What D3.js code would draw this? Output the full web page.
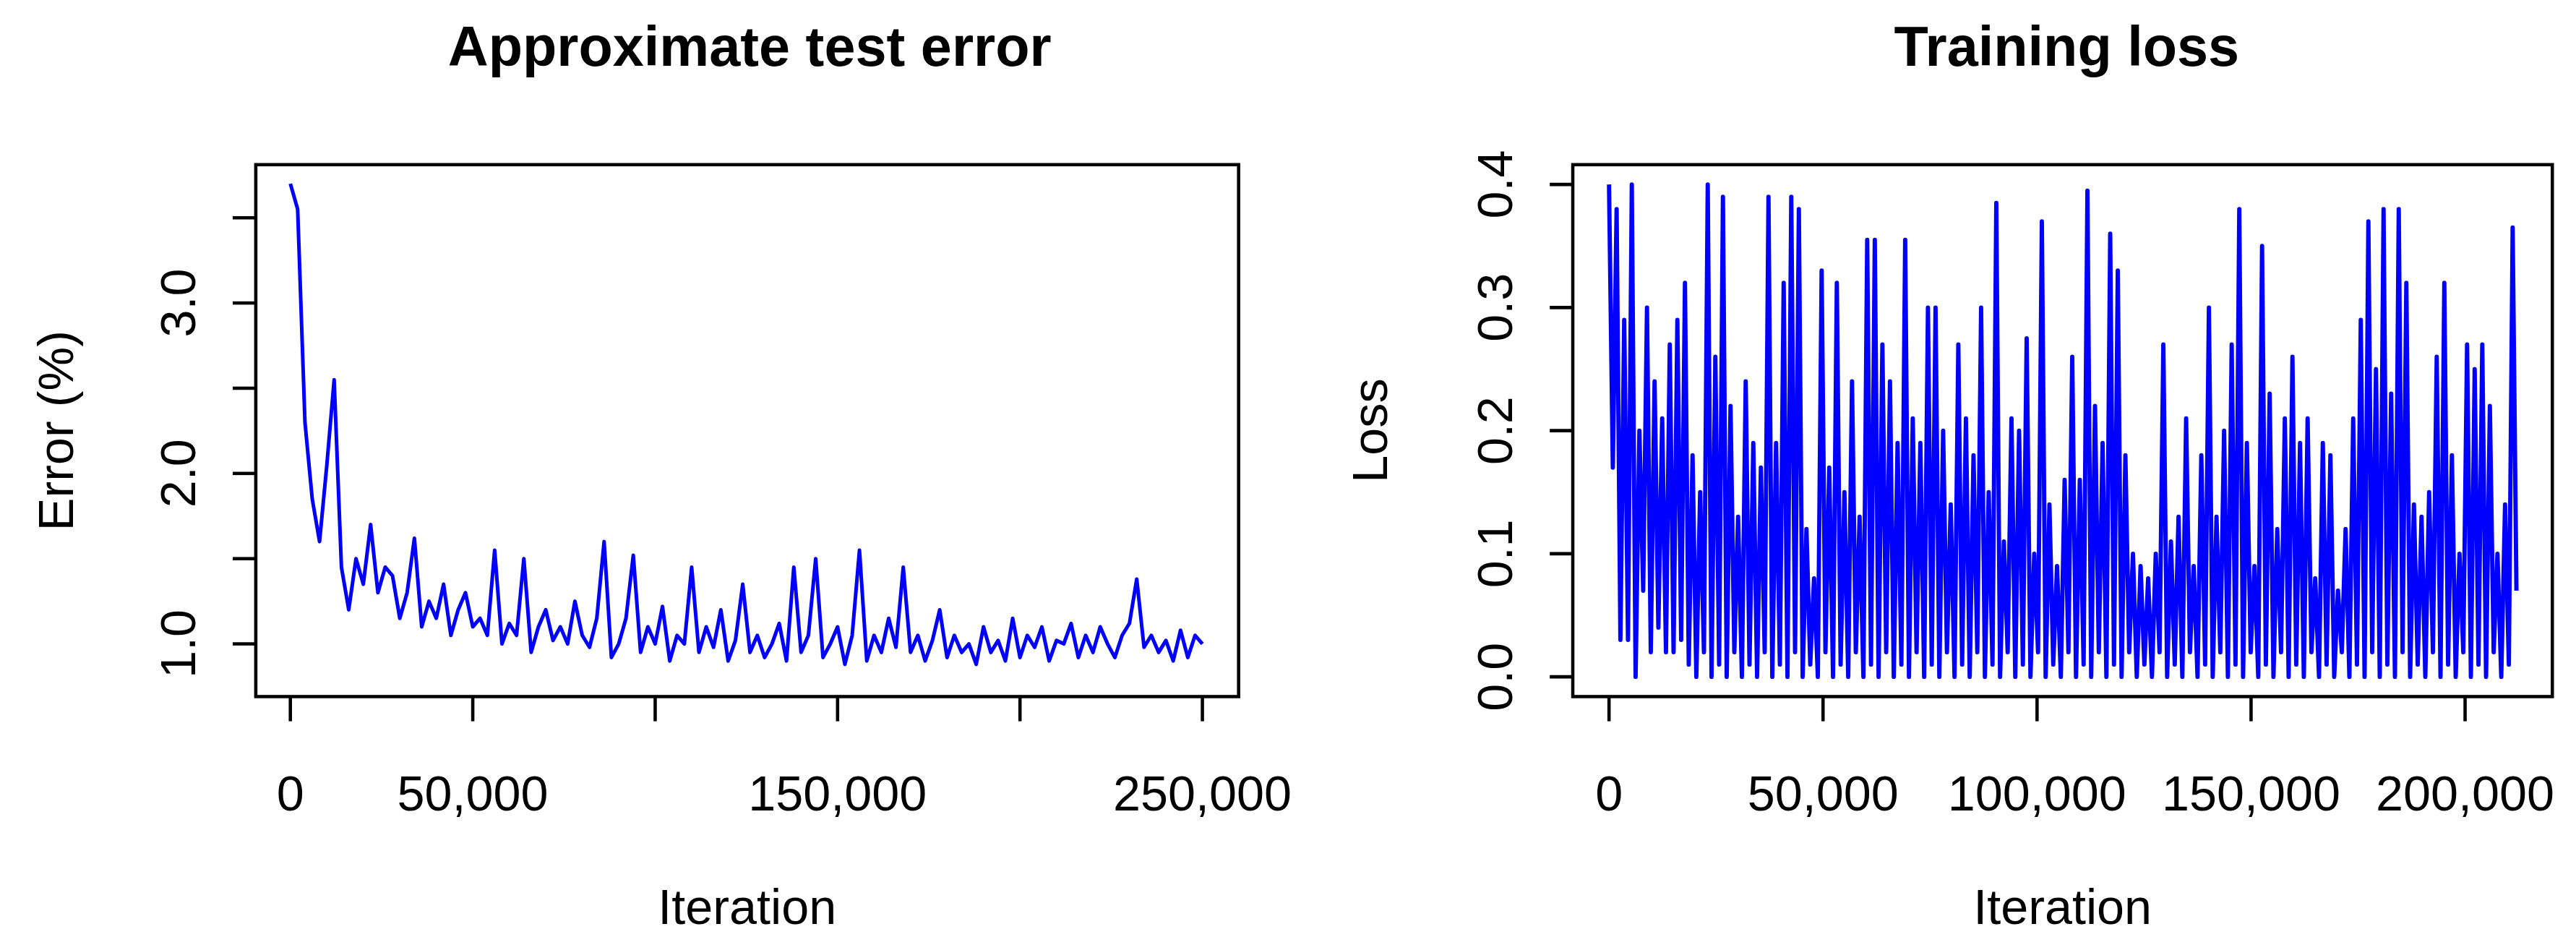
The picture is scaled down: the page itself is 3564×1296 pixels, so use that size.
<!DOCTYPE html>
<html>
<head>
<meta charset="utf-8">
<script src="https://cdn.jsdelivr.net/npm/d3@7"></script>
<style>
  body { margin: 0; background: #fff; }
  text { font-family: "Liberation Sans", Arial, sans-serif; fill: #000; }
</style>
</head>
<body>
<div id="chart"></div>
<script>
// approximate test error, one reading every ~2000 iterations
const errValues = [
  3.70,3.55,2.30,1.85,1.60,2.05,2.55,1.45,1.20,1.50,1.35,1.70,1.30,1.45,1.40,1.15,1.30,1.62,1.10,1.25,
  1.15,1.35,1.05,1.20,1.30,1.10,1.15,1.05,1.55,1.00,1.12,1.05,1.50,0.95,1.10,1.20,1.02,1.10,1.00,1.25,
  1.05,0.98,1.15,1.60,0.92,1.00,1.15,1.52,0.95,1.10,1.00,1.22,0.90,1.05,1.00,1.45,0.95,1.10,0.98,1.20,
  0.90,1.02,1.35,0.95,1.05,0.92,1.00,1.12,0.90,1.45,0.95,1.05,1.50,0.92,1.00,1.10,0.88,1.05,1.55,0.90,
  1.05,0.95,1.15,0.98,1.45,0.95,1.05,0.90,1.02,1.20,0.92,1.05,0.95,1.00,0.88,1.10,0.95,1.02,0.90,1.15,
  0.92,1.05,0.98,1.10,0.90,1.02,1.00,1.12,0.92,1.05,0.95,1.10,1.00,0.92,1.05,1.12,1.38,0.98,1.05,0.95,
  1.02,0.90,1.08,0.92,1.05,1.00
];
const errMaxIter = 250000;

// training loss, dense minibatch readings
const lossValues = [
  0.40,0.17,0.38,0.03,0.29,0.03,0.40,0.00,0.20,0.07,0.30,0.02,0.24,0.04,0.21,0.02,0.27,0.02,0.29,0.03,
  0.32,0.01,0.18,0.00,0.15,0.02,0.40,0.00,0.26,0.01,0.39,0.00,0.22,0.02,0.13,0.00,0.24,0.01,0.19,0.00,
  0.17,0.02,0.39,0.00,0.19,0.01,0.32,0.00,0.39,0.02,0.38,0.00,0.12,0.01,0.08,0.00,0.33,0.02,0.17,0.00,
  0.32,0.01,0.15,0.00,0.24,0.02,0.13,0.00,0.355,0.01,0.355,0.00,0.27,0.02,0.24,0.00,0.19,0.01,0.355,0.00,
  0.21,0.02,0.19,0.00,0.30,0.01,0.30,0.00,0.20,0.02,0.14,0.00,0.27,0.01,0.21,0.00,0.18,0.02,0.30,0.00,
  0.15,0.01,0.385,0.00,0.11,0.02,0.21,0.00,0.20,0.01,0.275,0.00,0.10,0.02,0.37,0.00,0.14,0.01,0.09,0.00,
  0.16,0.02,0.26,0.00,0.16,0.01,0.395,0.00,0.22,0.02,0.19,0.00,0.36,0.01,0.33,0.00,0.18,0.02,0.10,0.00,
  0.09,0.01,0.08,0.00,0.10,0.02,0.27,0.00,0.11,0.01,0.13,0.00,0.21,0.02,0.09,0.00,0.18,0.01,0.30,0.00,
  0.13,0.02,0.20,0.00,0.27,0.01,0.38,0.00,0.19,0.02,0.09,0.00,0.35,0.01,0.23,0.00,0.12,0.02,0.21,0.00,
  0.26,0.01,0.19,0.00,0.21,0.02,0.08,0.00,0.19,0.01,0.18,0.00,0.07,0.02,0.12,0.00,0.21,0.01,0.29,0.00,
  0.37,0.02,0.25,0.00,0.38,0.01,0.23,0.00,0.38,0.02,0.32,0.00,0.14,0.01,0.13,0.00,0.15,0.02,0.26,0.00,
  0.32,0.01,0.18,0.00,0.10,0.02,0.27,0.00,0.25,0.01,0.27,0.00,0.22,0.02,0.10,0.00,0.14,0.01,0.365,0.07
];
const lossMaxIter = 212000;

const errXTicks = [0, 50000, 100000, 150000, 200000, 250000];
const errXLabels = [0, 50000, 150000, 250000];
const errYTicks = [1.0, 1.5, 2.0, 2.5, 3.0, 3.5];
const errYLabels = [1.0, 2.0, 3.0];
const lossXTicks = [0, 50000, 100000, 150000, 200000];
const lossYTicks = [0.0, 0.1, 0.2, 0.3, 0.4];

const W = 1564, H = 569;
const fmt = d3.format(",");

const svg = d3.select("#chart").append("svg")
  .attr("width", 3564).attr("height", 1296)
  .attr("viewBox", `0 0 ${W} ${H}`);

function panel(o) {
  const x = d3.scaleLinear().domain(o.xDom).range([o.left, o.right]);
  const y = d3.scaleLinear().domain(o.yDom).range([o.bottom, o.top]);
  const data = o.values.map((v, i) => [i * o.maxIter / (o.values.length - 1), v]);

  svg.append("path").datum(data)
    .attr("fill", "none").attr("stroke", "#0000ff").attr("stroke-width", o.lineW)
    .attr("stroke-linejoin", "round")
    .attr("d", d3.line().x(d => x(d[0])).y(d => y(d[1])));

  svg.append("rect")
    .attr("x", o.left).attr("y", o.top)
    .attr("width", o.right - o.left).attr("height", o.bottom - o.top)
    .attr("fill", "none").attr("stroke", "#000").attr("stroke-width", 2);

  // x axis ticks
  const gx = svg.append("g");
  gx.selectAll("line.t").data(o.xTicks).join("line").attr("class", "t")
    .attr("x1", d => x(d)).attr("x2", d => x(d))
    .attr("y1", o.bottom).attr("y2", o.bottom + 15)
    .attr("stroke", "#000").attr("stroke-width", 2);
  gx.selectAll("text").data(o.xLabels).join("text")
    .attr("x", d => x(d)).attr("y", o.bottom + 69)
    .attr("text-anchor", "middle").attr("font-size", 30)
    .text(d => fmt(d));

  // y axis ticks
  const gy = svg.append("g");
  gy.selectAll("line.t").data(o.yTicks).join("line").attr("class", "t")
    .attr("x1", o.left).attr("x2", o.left - 14)
    .attr("y1", d => y(d)).attr("y2", d => y(d))
    .attr("stroke", "#000").attr("stroke-width", 2);
  gy.selectAll("text").data(o.yLabels).join("text")
    .attr("transform", d => `translate(${o.left - 37},${y(d)}) rotate(-90)`)
    .attr("text-anchor", "middle").attr("font-size", 30)
    .text(d => d.toFixed(1));

  svg.append("text").attr("x", o.titleX).attr("y", 40)
    .attr("text-anchor", "middle").attr("font-size", 34).attr("font-weight", "bold")
    .text(o.title);
  svg.append("text").attr("x", (o.left + o.right) / 2).attr("y", 561)
    .attr("text-anchor", "middle").attr("font-size", 30).text("Iteration");
  svg.append("text")
    .attr("transform", `translate(${o.yLabX},${(o.top + o.bottom) / 2}) rotate(-90)`)
    .attr("text-anchor", "middle").attr("font-size", 30).text(o.yLabel);
}

// left: 0 -> 176px, 250k -> 730px ; 1.0 -> 391px, 3.0 -> 184px
panel({
  values: errValues, maxIter: errMaxIter, lineW: 2.2,
  left: 155, right: 752, top: 100, bottom: 423,
  xDom: [-250000 * 21 / 554, 250000 * 576 / 554], yDom: [1.0 - 32 / 103.5, 3.0 + 84 / 103.5],
  xTicks: errXTicks, xLabels: errXLabels, yTicks: errYTicks, yLabels: errYLabels,
  title: "Approximate test error", titleX: 455, yLabel: "Error (%)", yLabX: 44
});

// right: 0 -> 977px, 200k -> 1497px ; 0.0 -> 411px, 0.4 -> 112px
panel({
  values: lossValues, maxIter: lossMaxIter, lineW: 2.6,
  left: 955, right: 1550, top: 100, bottom: 423,
  xDom: [-200000 * 22 / 520, 200000 * 573 / 520], yDom: [-0.4 * 12 / 299, 0.4 + 0.4 * 12 / 299],
  xTicks: lossXTicks, xLabels: lossXTicks, yTicks: lossYTicks, yLabels: lossYTicks,
  title: "Training loss", titleX: 1255, yLabel: "Loss", yLabX: 842
});
</script>
</body>
</html>
